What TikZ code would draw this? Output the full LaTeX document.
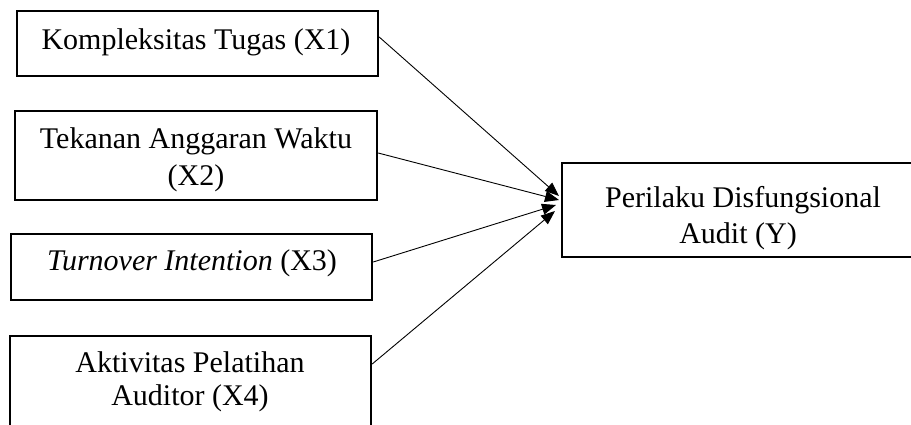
\documentclass[tikz,border=0pt]{standalone}
\usepackage{fontspec}
\setmainfont{Liberation Serif}
\usetikzlibrary{arrows.meta}
\begin{document}
\begin{tikzpicture}[x=1pt,y=-1pt,
  box/.style={draw=black,line width=2.4pt,inner sep=0pt,fill=none},
  txt/.style={inner sep=0pt,anchor=base,font=\fontsize{30}{37}\selectfont},
  arr/.style={line width=0.9pt,-{Triangle[length=14pt,width=11pt]}}]
\useasboundingbox (0,0) rectangle (911,424);
\clip (0,0) rectangle (911,424);
% boxes
\node[box,minimum width=361pt,minimum height=65pt] (x1) at (197.5,43.5) {};
\node[box,minimum width=362pt,minimum height=89pt] (x2) at (196,155.5) {};
\node[box,minimum width=361pt,minimum height=66pt] (x3) at (191.5,267) {};
\node[box,minimum width=361pt,minimum height=104pt] (x4) at (190.5,388) {};
\node[box,minimum width=357pt,minimum height=94pt] (y) at (740.5,210) {};
% texts
\node[txt] (t1) at (196,49) {Kompleksitas Tugas (X1)};
\node[txt] (t2a) at (196,148) {Tekanan Anggaran Waktu};
\node[txt] (t2b) at (196,185) {(X2)};
\node[txt] (t3) at (192,270) {\textit{Turnover Intention} (X3)};
\node[txt] (t4a) at (190,372) {Aktivitas Pelatihan};
\node[txt] (t4b) at (190,405) {Auditor (X4)};
\node[txt] (ta) at (743,207) {Perilaku Disfungsional};
\node[txt] (tb) at (738,243) {Audit (Y)};
% arrow ends
\coordinate (e1) at (559,196);
\coordinate (e2) at (559,200);
\coordinate (e3) at (556,205);
\coordinate (e4) at (555,211);
\draw[arr] ([yshift=6.5pt]x1.east) -- (e1);
\draw[arr] ([yshift=2.5pt]x2.east) -- (e2);
\draw[arr] ([yshift=5pt]x3.east) -- (e3);
\draw[arr] ([yshift=24pt]x4.east) -- (e4);
\end{tikzpicture}
\end{document}
